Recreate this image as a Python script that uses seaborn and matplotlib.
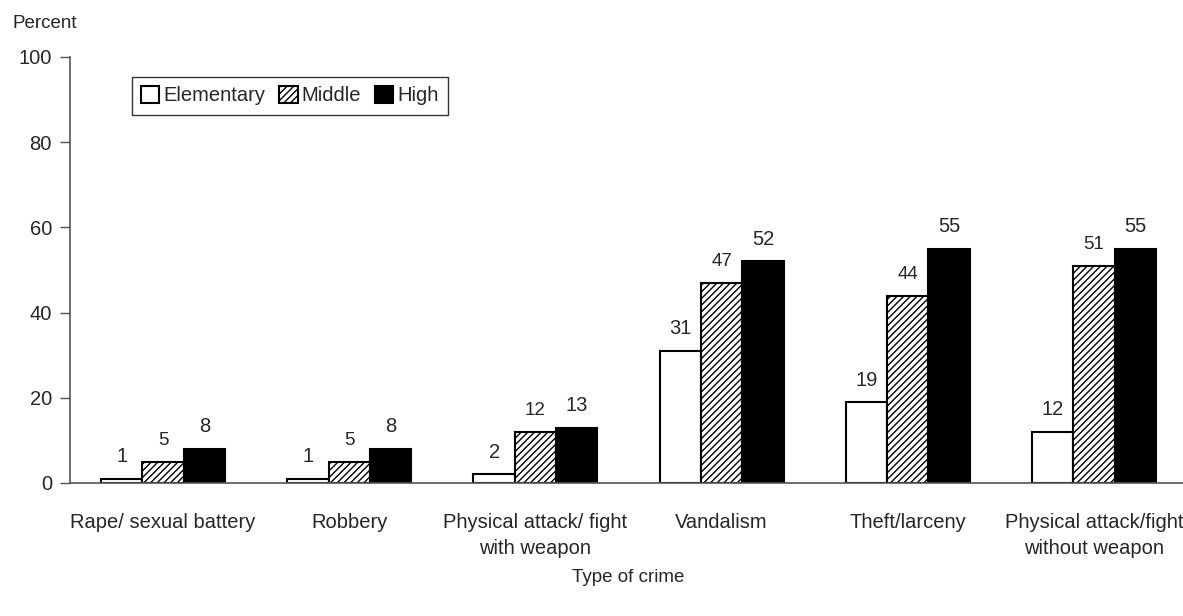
import matplotlib
matplotlib.use("Agg")
import matplotlib.pyplot as plt
import pandas as pd
import seaborn as sns

# datos
crimes = ["Rape/ sexual battery", "Robbery", "Physical attack/ fight\nwith weapon",
          "Vandalism", "Theft/larceny", "Physical attack/fight\nwithout weapon"]
levels = ["Elementary", "Middle", "High"]
elementary = [1, 1, 2, 31, 19, 12]
middle = [5, 5, 12, 47, 44, 51]
high = [8, 8, 13, 52, 55, 55]

df = pd.DataFrame({
    "crime": crimes * 3,
    "level": ["Elementary"] * 6 + ["Middle"] * 6 + ["High"] * 6,
    "pct": elementary + middle + high,
})

sns.set_style("white")
plt.rcParams["font.family"] = ["Liberation Sans Narrow", "Liberation Sans", "DejaVu Sans"]
plt.rcParams["hatch.linewidth"] = 1.0

fig = plt.figure(figsize=(11.83, 6.16), dpi=100)
ax = fig.add_axes([70 / 1183, 1 - 483 / 616, 1117 / 1183, 426 / 616])

sns.barplot(data=df, x="crime", y="pct", hue="level", hue_order=levels, order=crimes,
            palette=["white", "white", "black"], edgecolor="black", linewidth=1.5,
            width=0.666, gap=0, ax=ax, legend=True)

# rayado para Middle
for bar in ax.containers[1]:
    bar.set_hatch("/////")

sizes = [14.5, 13.5, 14.5]
for cont, sz in zip(ax.containers, sizes):
    ax.bar_label(cont, padding=9, fontsize=sz)

ax.set_ylim(0, 100)
ax.set_xlim(-0.5, 5.5)
ax.set_yticks([0, 20, 40, 60, 80, 100])
ax.tick_params(axis="y", left=True, length=7, width=1, labelsize=14.5, pad=6, color="#555555")
ax.tick_params(axis="x", bottom=False, labelsize=14.5, pad=18)
for lbl in ax.get_xticklabels():
    lbl.set_linespacing(1.45)
for s in ["top", "right"]:
    ax.spines[s].set_visible(False)
for s in ["left", "bottom"]:
    ax.spines[s].set_color("#555555")
    ax.spines[s].set_linewidth(1.2)

ax.set_xlabel("Type of crime", fontsize=13.5, labelpad=8)
ax.set_ylabel("")
fig.text(12 / 1183, 1 - 24 / 616, "Percent", fontsize=13.5, va="center", ha="left")

handles, labels = ax.get_legend_handles_labels()
leg = ax.legend(handles, labels, loc="upper left", bbox_to_anchor=(52 / 1117, 1 - 10 / 426),
                ncol=3, fontsize=14.5, frameon=True, fancybox=False, edgecolor="black",
                handlelength=0.9, handleheight=0.9, handletextpad=0.2, columnspacing=0.7,
                borderpad=0.45)
leg.get_frame().set_linewidth(1.0)
leg.legend_handles[1].set_hatch("/////")

fig.savefig("out.png", dpi=100)
